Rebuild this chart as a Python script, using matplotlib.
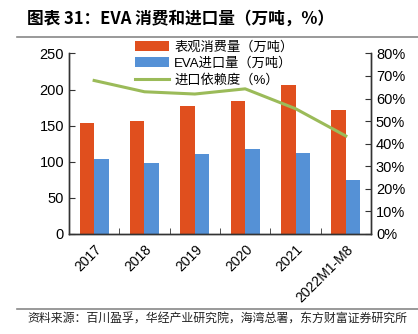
import matplotlib
matplotlib.use("Agg")
import matplotlib.pyplot as plt
import numpy as np

plt.rcParams['font.family'] = ['Liberation Sans', 'Noto Sans CJK SC', 'DejaVu Sans']

years = ['2017', '2018', '2019', '2020', '2021', '2022M1-M8']
consumption = [153, 156, 177, 184, 206, 172]   # 表观消费量（万吨）
imports = [104, 98, 110, 118, 112, 75]          # EVA进口量（万吨）
dependence = [68, 63, 62, 64.3, 55.5, 43.4]     # 进口依赖度（%）

red = '#E04F1E'
blue = '#5591D6'
green = '#9BBB59'

fig = plt.figure(figsize=(4.18, 3.34), dpi=100)
ax = fig.add_axes([0.165, 0.30, 0.7226, 0.540])
ax2 = ax.twinx()

x = np.arange(len(years))
w = 0.29
b1 = ax.bar(x - w / 2, consumption, w, color=red, zorder=2)
b2 = ax.bar(x + w / 2, imports, w, color=blue, zorder=2)
l1, = ax2.plot(x, dependence, color=green, lw=2.2)

ax.set_xlim(-0.5, len(years) - 0.5)
ax.set_ylim(0, 250)
ax.set_yticks(range(0, 251, 50))
ax2.set_ylim(0, 80)
ax2.set_yticks(range(0, 81, 10))
ax2.set_yticklabels([f'{v}%' for v in range(0, 81, 10)])

ax.set_xticks(x)
ax.set_xticklabels(years, rotation=45, ha='right', rotation_mode='anchor', fontsize=10)
ax.set_xticks(np.arange(-0.5, len(years)), minor=True)
ax.tick_params(axis='x', which='major', length=0, pad=6)
ax.tick_params(axis='x', which='minor', direction='in', length=4, color='#333333')
ax.tick_params(axis='y', direction='in', length=4, labelsize=10.5, color='#333333')
ax2.tick_params(axis='y', direction='in', length=4, labelsize=10.5, color='#333333')

for a in (ax, ax2):
    a.spines['top'].set_visible(False)
    for s in ('left', 'right', 'bottom'):
        a.spines[s].set_color('#333333')
        a.spines[s].set_linewidth(1.0)

ax.legend([b1, b2, l1], ['表观消费量（万吨）', 'EVA进口量（万吨）', '进口依赖度（%）'],
          loc='upper left', bbox_to_anchor=(0.2, 1.10), frameon=False,
          fontsize=9.5, handlelength=2.6, handleheight=0.8, labelspacing=0.3,
          borderaxespad=0, handletextpad=0.4)

fig.text(0.065, 0.945, '图表 31：EVA 消费和进口量（万吨，%）', fontsize=12, fontweight='bold',
         family=['Noto Sans CJK SC', 'DejaVu Sans'], va='center')
fig.add_artist(plt.Line2D([0.04, 1.0], [0.89, 0.89], color='#888888', lw=1.2))
fig.add_artist(plt.Line2D([0.04, 1.0], [0.075, 0.075], color='#888888', lw=1.2))
fig.text(0.065, 0.045, '资料来源：百川盈孚，华经产业研究院，海湾总署，东方财富证券研究所', fontsize=8.6,
         family=['Noto Sans CJK SC', 'DejaVu Sans'], va='center', color='#222222')

fig.savefig('out.png', dpi=100)
